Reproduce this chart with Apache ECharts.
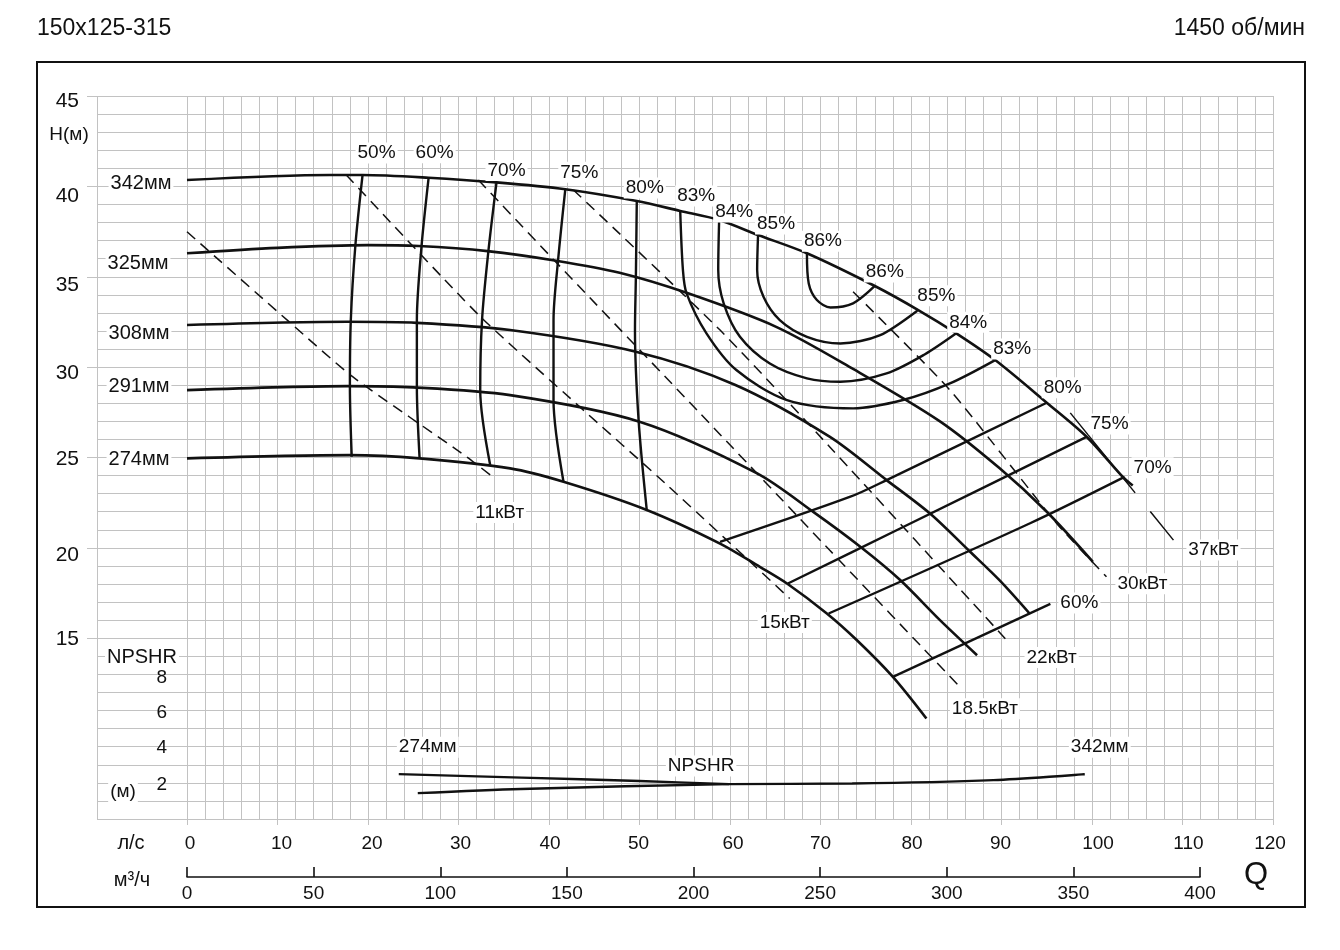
<!DOCTYPE html>
<html>
<head>
<meta charset="utf-8">
<title>150x125-315</title>
<script src="https://cdn.jsdelivr.net/npm/echarts@6/dist/echarts.min.js"></script>
<style>
  html, body { margin: 0; padding: 0; background: #fff; }
  #chart { width: 1340px; height: 950px; }
</style>
</head>
<body>
<div id="chart"></div>
<script>
// расход Q в л/с, напор H в м

// Q-H по диаметрам рабочего колеса
const head342 = [[0,40.35],[15.8,40.63],[19.4,40.63],[26.7,40.48],[34.2,40.22],[41.8,39.84],[49.7,39.19],[54.5,38.64],[58.8,38.14],[63.1,37.31],[68.5,36.3],[76.0,34.49],[80.8,33.16],[85.0,31.87],[89.3,30.39],[95.0,28.03],[99.4,26.15],[103.4,23.93],[104.5,23.45]];
const head325 = [[0,36.3],[10,36.6],[20,36.75],[25.6,36.7],[33.2,36.42],[40.8,35.89],[47.8,35.22],[55.2,34.11],[65.1,32.23],[73.6,29.9],[83.2,27.0],[89.8,24.4],[95.0,22.0],[100.1,19.23]];
const head308 = [[0,32.33],[17.7,32.51],[25.4,32.45],[35.7,32.05],[49.6,30.85],[60.6,29.01],[71.0,26.15],[77.3,23.75],[82.1,21.9],[86.5,19.8],[89.8,18.2],[93.1,16.37]];
const head291 = [[0,28.73],[17.7,28.95],[25,28.88],[35.7,28.45],[50,26.98],[63,24.12],[69.2,21.99],[74.4,20.06],[78.8,18.22],[83.2,16.0],[87.3,14.06]];
const head274 = [[0,24.95],[18,25.13],[25.7,24.95],[35.7,24.4],[41.6,23.66],[50.8,22.1],[58.9,20.24],[63.3,18.95],[66.3,18.03],[70.7,16.37],[74,14.9],[78,12.86],[81.7,10.56]];

// линии КПД
const eff50 = [[19.4,40.63],[18.6,36.7],[18.1,32.6],[18.0,28.91],[18.2,25.04]];
const eff60 = [[26.7,40.48],[25.9,36.6],[25.4,32.6],[25.4,28.91],[25.7,24.95]];
const eff70 = [[34.2,40.22],[33.3,36.4],[32.6,32.6],[32.4,28.73],[33.5,24.58]];
const eff75 = [[41.8,39.84],[41.0,35.9],[40.5,32.6],[40.5,28.18],[41.6,23.66]];
const eff80 = [[49.7,39.19],[49.6,35.0],[49.5,32.05],[49.9,27.07],[50.8,22.1]];
const eff83 = [[54.5,38.64],[54.8,35.37],[55.2,34.08],[57.4,31.87],[60.7,29.84],[66.3,28.18],[73.6,27.72],[79.1,28.18],[84.3,29.1],[89.3,30.39]];
const eff84 = [[58.8,38.14],[58.7,35.37],[59.3,33.53],[61.1,31.68],[64.4,30.2],[68.5,29.38],[72.2,29.19],[77.3,29.65],[81.5,30.7],[85.0,31.87]];
const eff85 = [[63.1,37.31],[63.0,35.37],[63.7,33.89],[65.5,32.6],[68.5,31.68],[72.2,31.31],[76.6,31.77],[80.7,33.12]];
const eff86 = [[68.5,36.3],[68.7,34.63],[69.6,33.71],[71.1,33.3],[73.6,33.53],[76.0,34.49]];
const eff80r = [[58.9,20.33],[73.3,22.83],[77.3,23.75],[95.0,28.03]];
const eff75r = [[66.4,18.03],[78.8,21.07],[99.4,26.14]];
const eff70r = [[70.9,16.37],[93.1,21.35],[103.6,23.93]];
const eff60r = [[78.0,12.86],[95.4,16.9]];

// мощность, кВт
const pow11 = [[0,37.49],[11.3,32.5],[18.3,29.47],[30.9,25.04],[34.0,23.84]];
const pow15 = [[17.6,40.63],[32.2,32.9],[43.4,27.8],[53.0,23.5],[66.6,17.2]];
const pow185 = [[32.2,40.35],[40.9,35.74],[56.7,27.44],[71.0,19.88],[85.4,12.31]];
const pow22 = [[42.7,39.8],[58.9,32.05],[71.0,25.6],[90.9,14.71]];
const pow30 = [[73.6,34.17],[84.3,28.73],[96.1,21.35],[101.6,18.4]];
const pow37 = [[97.6,27.47],[109.0,20.43]];

// NPSHR, м
const npsh274 = [[23.4,2.48],[37,2.29],[50,2.1],[59.9,1.93]];
const npsh342 = [[25.5,1.43],[36.9,1.66],[59.9,1.93],[73.5,1.96],[89.1,2.15],[99.2,2.48]];

// деления шкал
const headTicks = [15, 20, 25, 30, 35, 40, 45];
const npshTicks = [2, 4, 6, 8];

const FONT = '"Liberation Sans", Arial, sans-serif';
const INK = '#111';
const GRID = '#c2c2c2';

// небольшие сдвиги подписей шкал, как на исходном листе: значение -> [dx, dy]
const headShift = { 45: [0, 5], 40: [0, 10], 35: [0, 8], 30: [0, 6], 25: [0, 2], 20: [0, 7], 15: [0, 1] };
const npshShift = { 2: [0, 2], 4: [0, 1], 6: [0, 2], 8: [0, 3] };
const flowShift = { 0: [3, 0], 10: [4, 0], 20: [4, -4], 30: [2, 0], 40: [1, 0], 50: [-1, 0], 60: [3, 0], 80: [1, 0], 90: [-1, 0], 100: [6, 0], 110: [6, 0], 120: [-3, 0] };

function shiftRich(shift) {
  const rich = {};
  Object.keys(shift).forEach(function (k) {
    const d = shift[k];
    rich['s' + k] = {
      padding: [Math.max(0, 2 * d[1]), Math.max(0, -2 * d[0]), Math.max(0, -2 * d[1]), Math.max(0, 2 * d[0])]
    };
  });
  return rich;
}
function shifted(shift, allowed) {
  return function (v) {
    if (allowed && allowed.indexOf(v) < 0) return '';
    return shift[v] ? '{s' + v + '|' + v + '}' : String(v);
  };
}

function tag(text, dx, dy, size) {
  return {
    show: true, position: 'inside', offset: [dx, dy],
    formatter: text, color: INK, fontSize: size || 19, fontFamily: FONT,
    backgroundColor: '#fff', padding: [1, 2]
  };
}

// подписи к точкам кривой, ключ -1 = последняя точка
function pts(data, labels) {
  labels = labels || {};
  return data.map(function (p, i) {
    const l = labels[i] || labels[i - data.length];
    return l ? { value: p, label: l } : p;
  });
}

function curve(data, opt) {
  opt = opt || {};
  return {
    type: 'line', xAxisIndex: 0, yAxisIndex: opt.y || 0,
    data: pts(data, opt.labels),
    smooth: opt.smooth == null ? 0.3 : opt.smooth,
    symbol: 'circle', symbolSize: 2, showSymbol: true,
    itemStyle: { color: 'rgba(0,0,0,0)' },
    lineStyle: { color: INK, width: opt.width || 2.4, type: opt.dash || 'solid' },
    silent: true, clip: false
  };
}

const DASH = [11, 7];

const series = [
  curve(head342, { width: 2.6, labels: { 0: tag('342мм', -46, 3, 20) } }),
  curve(head325, { width: 2.6, labels: { 0: tag('325мм', -49, 10, 20) } }),
  curve(head308, { width: 2.6, labels: { 0: tag('308мм', -48, 8, 20) } }),
  curve(head291, { width: 2.6, labels: { 0: tag('291мм', -48, -4, 20) } }),
  curve(head274, { width: 2.6, labels: { 0: tag('274мм', -48, 1, 20) } }),

  curve(eff50, { labels: { 0: tag('50%', 14, -22) } }),
  curve(eff60, { labels: { 0: tag('60%', 6, -25) } }),
  curve(eff70, { labels: { 0: tag('70%', 10, -12) } }),
  curve(eff75, { labels: { 0: tag('75%', 14, -17) } }),
  curve(eff80, { labels: { 0: tag('80%', 8, -13) } }),
  curve(eff83, { labels: { 0: tag('83%', 16, -15), '-1': tag('83%', 17, -11) } }),
  curve(eff84, { labels: { 0: tag('84%', 15, -8), '-1': tag('84%', 12, -11) } }),
  curve(eff85, { labels: { 0: tag('85%', 18, -11), '-1': tag('85%', 19, -15) } }),
  curve(eff86, { labels: { 0: tag('86%', 16, -12), '-1': tag('86%', 10, -14) } }),
  curve(eff80r, { labels: { '-1': tag('80%', 16, -15) } }),
  curve(eff75r, { labels: { '-1': tag('75%', 23, -13) } }),
  curve(eff70r, { labels: { '-1': tag('70%', 28, -9) } }),
  curve(eff60r, { labels: { '-1': tag('60%', 29, -1) } }),

  curve(pow11, { width: 1.5, dash: DASH, smooth: 0.2, labels: { '-1': tag('11кВт', 5, 34) } }),
  curve(pow15, { width: 1.5, dash: DASH, smooth: 0.2, labels: { '-1': tag('15кВт', -5, 24) } }),
  curve(pow185, { width: 1.5, dash: DASH, smooth: 0.2, labels: { '-1': tag('18.5кВт', 25, 22) } }),
  curve(pow22, { width: 1.5, dash: DASH, smooth: 0.2, labels: { '-1': tag('22кВт', 42, 14) } }),
  curve(pow30, { width: 1.5, dash: DASH, smooth: 0.2, labels: { '-1': tag('30кВт', 36, 7) } }),
  curve(pow37, { width: 1.5, dash: [103, 24], smooth: 0, labels: { '-1': tag('37кВт', 40, 10) } }),

  curve(npsh274, { y: 1, width: 2.4, labels: { 0: tag('274мм', 29, -27) } }),
  curve(npsh342, { y: 1, width: 2.4, labels: { 2: tag('NPSHR', -28, -18), '-1': tag('342мм', 15, -27) } })
];

function text(x, y, str, size, align, bg) {
  return {
    type: 'text', x: x, y: y, z: 100,
    style: {
      text: str, fontSize: size, fontFamily: FONT, fill: INK,
      align: align || 'center', verticalAlign: 'middle',
      textAlign: align || 'center', textVerticalAlign: 'middle',
      backgroundColor: bg ? '#fff' : null, padding: bg ? [1, 2] : 0
    }
  };
}

const hidden = { show: false };
const noLabel = { show: false };
const PX_PER_M = 723 / 40;

const option = {
  animation: false,
  backgroundColor: '#fff',
  textStyle: { fontFamily: FONT, color: INK },
  grid: [
    { left: 187, top: 96, width: 1086, height: 723 },            // основное поле
    { left: 97, top: 96, width: 90, height: 723 },               // поле подписей слева
    { left: 187, top: 876, width: 1013, height: 1 },             // шкала м3/ч
    { left: 97, top: 96, width: 90, height: 30 * PX_PER_M }      // шкала H 15..45
  ],
  xAxis: [
    { gridIndex: 0, type: 'value', min: 0, max: 120, interval: 2,
      axisLine: hidden, axisTick: hidden, axisLabel: noLabel,
      splitLine: { show: true, lineStyle: { color: GRID, width: 1 } } },
    { gridIndex: 0, type: 'value', min: 0, max: 120, interval: 10, position: 'bottom',
      axisLine: hidden, splitLine: hidden,
      axisTick: { show: true, length: 6, lineStyle: { color: GRID } },
      axisLabel: { show: true, margin: 15, fontSize: 19, color: INK, fontFamily: FONT,
        formatter: shifted(flowShift), rich: shiftRich(flowShift) } },
    { gridIndex: 1, type: 'value', min: 0, max: 1, interval: 1,
      axisLine: hidden, axisTick: hidden, axisLabel: noLabel,
      splitLine: { show: true, lineStyle: { color: GRID, width: 1 } } },
    { gridIndex: 2, type: 'value', min: 0, max: 400, interval: 50, position: 'bottom',
      axisLine: { show: true, lineStyle: { color: INK, width: 1.6 } },
      axisTick: { show: true, inside: true, length: 10, lineStyle: { color: INK, width: 1.6 } },
      axisLabel: { show: true, margin: 7, fontSize: 19, color: INK, fontFamily: FONT },
      splitLine: hidden },
    { gridIndex: 3, type: 'value', min: 0, max: 1, show: false }
  ],
  yAxis: [
    { gridIndex: 0, type: 'value', min: 5, max: 45, interval: 1,
      axisLine: hidden, axisTick: hidden, axisLabel: noLabel,
      splitLine: { show: true, lineStyle: { color: GRID, width: 1 } } },
    { gridIndex: 0, type: 'value', min: 0, max: 40, interval: 2, position: 'left',
      axisLine: hidden, axisTick: hidden, splitLine: hidden,
      axisLabel: { show: true, margin: 20, fontSize: 19, color: INK, fontFamily: FONT,
        formatter: shifted(npshShift, npshTicks), rich: shiftRich(npshShift) } },
    { gridIndex: 1, type: 'value', min: 5, max: 45, interval: 1,
      axisLine: hidden, axisTick: hidden, axisLabel: noLabel,
      splitLine: { show: true, lineStyle: { color: GRID, width: 1 } } },
    { gridIndex: 2, type: 'value', show: false },
    { gridIndex: 3, type: 'value', min: 15, max: 45, interval: 5, position: 'left',
      axisLine: hidden, splitLine: hidden,
      axisTick: { show: true, length: 10, lineStyle: { color: GRID } },
      axisLabel: { show: true, margin: 18, fontSize: 21, color: INK, fontFamily: FONT,
        formatter: shifted(headShift, headTicks), rich: shiftRich(headShift) } }
  ],
  graphic: [
    { type: 'rect', z: 100, shape: { x: 37, y: 62, width: 1268, height: 845 },
      style: { fill: 'transparent', stroke: INK, lineWidth: 2 } },
    text(37, 29, '150x125-315', 23, 'left'),
    text(1305, 29, '1450 об/мин', 23, 'right'),
    text(69, 135, 'Н(м)', 19, 'center', true),
    text(142, 657, 'NPSHR', 20, 'center', true),
    text(123, 792, '(м)', 19, 'center', true),
    text(131, 843, 'л/с', 20),
    text(132, 880, 'м³/ч', 20),
    text(1256, 875, 'Q', 31)
  ],
  series: series
};

const chart = echarts.init(document.getElementById('chart'), null, { renderer: 'canvas' });
chart.setOption(option);
</script>
</body>
</html>
